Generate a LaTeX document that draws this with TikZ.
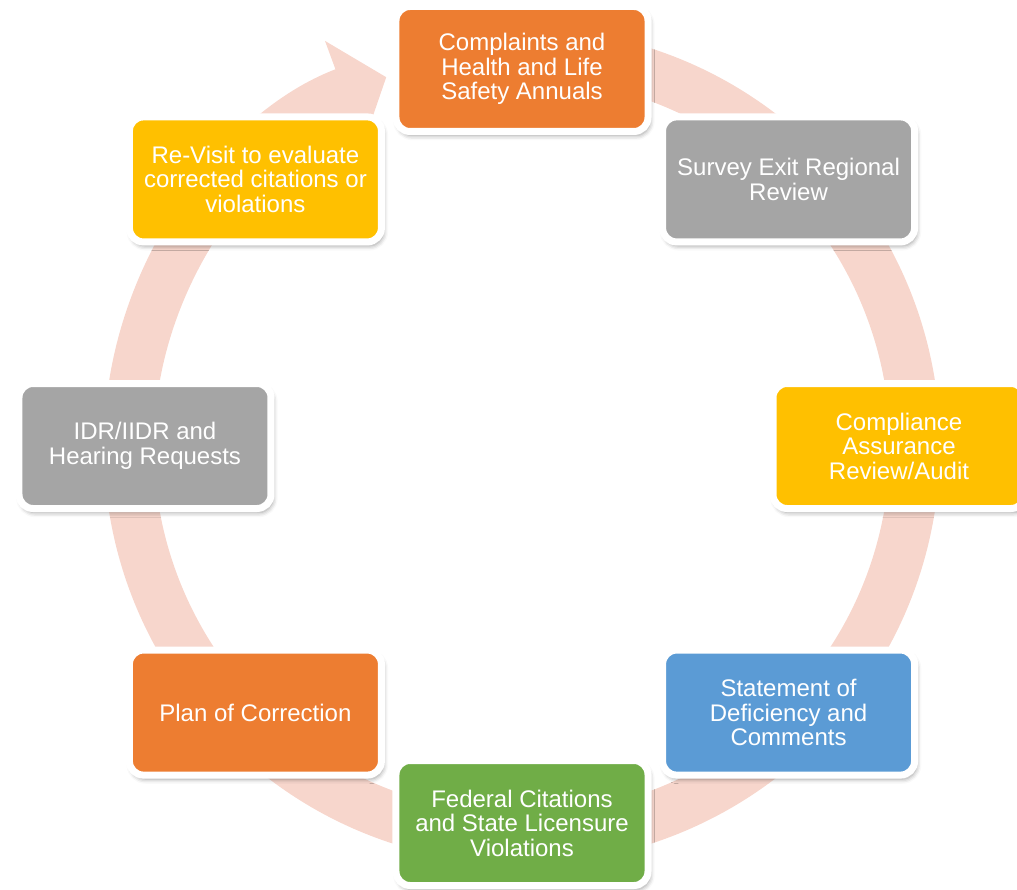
\documentclass[tikz,border=0pt]{standalone}
\usepackage{fontspec}
\setmainfont{Liberation Sans}
\usetikzlibrary{arrows.meta,shadows.blur}

\definecolor{boxorange}{HTML}{ED7D31}
\definecolor{boxgray}{HTML}{A5A5A5}
\definecolor{boxyellow}{HTML}{FFC000}
\definecolor{boxblue}{HTML}{5B9BD5}
\definecolor{boxgreen}{HTML}{70AD47}
\definecolor{bandpink}{HTML}{F7D6CC}

\tikzset{
  stagebox/.style={rectangle, rounded corners=10.5pt, draw=white, line width=5.25pt,
    minimum width=189pt, minimum height=93.75pt, text=white, align=center,
    font=\fontsize{18}{18.4}\selectfont,
    blur shadow={shadow xshift=1.5pt, shadow yshift=-3pt, shadow blur radius=3.5pt, shadow opacity=40}},
  band/.style={draw=bandpink, line width=37.5pt,
    -{Triangle[length=33.75pt, width=81pt, fill=bandpink]}}
}

\begin{document}
\begin{tikzpicture}[x=0.75pt, y=0.75pt]
    \useasboundingbox (-522, -443) rectangle (495, 446);
    % cycle band behind the boxes
    \coordinate (start) at (80:393);
    \draw[band] (start) arc[start angle=80, end angle=-249.8, radius=393];
    % stages
    \node[stagebox, fill=boxorange] (complaints) at (90:377) {Complaints and\\Health and Life\\Safety Annuals};
    \node[stagebox, fill=boxgray] (survey) at (45:377) {Survey Exit Regional\\Review};
    \node[stagebox, fill=boxyellow] (compliance) at (0:377) {Compliance\\Assurance\\Review/Audit};
    \node[stagebox, fill=boxblue] (statement) at (-45:377) {Statement of\\Deficiency and\\Comments};
    \node[stagebox, fill=boxgreen] (federal) at (-90:377) {Federal Citations\\and State Licensure\\Violations};
    \node[stagebox, fill=boxorange] (plan) at (-135:377) {Plan of Correction};
    \node[stagebox, fill=boxgray] (idr) at (180:377) {IDR/IIDR and\\Hearing Requests};
    \node[stagebox, fill=boxyellow] (revisit) at (135:377) {Re-Visit to evaluate\\corrected citations or\\violations};
\end{tikzpicture}
\end{document}
